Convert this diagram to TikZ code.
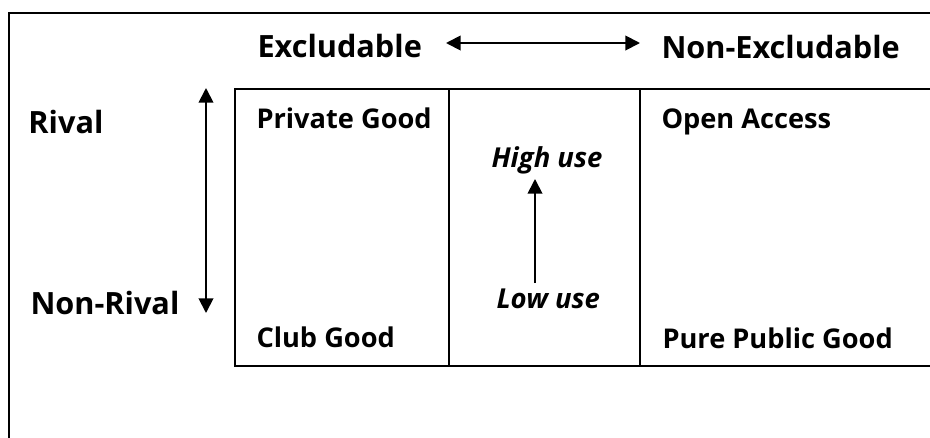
\documentclass[tikz,border=0pt]{standalone}
\usepackage{fontspec}
\setmainfont{Open Sans}
\usetikzlibrary{arrows.meta}

\tikzset{every picture/.style={line width=0.75pt}}
\tikzset{
  headlbl/.style={font=\fontsize{23}{26}\selectfont\bfseries, anchor=base west, inner sep=0pt},
  lbl/.style={font=\fontsize{20.4}{23}\selectfont\bfseries, anchor=base west, inner sep=0pt},
  uselbl/.style={font=\fontsize{20.6}{23}\selectfont\bfseries\itshape, anchor=base west, inner sep=0pt},
  frameline/.style={line width=1.4pt},
  arr/.style={line width=1.4pt, -{Triangle[length=11pt,width=11pt]}},
  dblarr/.style={line width=1.4pt, {Triangle[length=11pt,width=11pt]}-{Triangle[length=11pt,width=11pt]}}
}

\begin{document}
\begin{tikzpicture}[x=0.75pt,y=0.75pt,yscale=-1,xscale=1]
	\useasboundingbox (0,0) rectangle (930,437);
	\clip (0,0) rectangle (930,437);

	%Outer frame
	\draw [frameline] (9,440) -- (9,13) -- (935,13) ;
	%Table
	\draw [frameline] (935,89) -- (235,89) -- (235,366) -- (935,366) ;
	\draw [frameline] (449,89) -- (449,366) ;
	\draw [frameline] (640,89) -- (640,366) ;

	% Text Node
	\node [headlbl] (excl) at (257,57) {Excludable};
	% Text Node
	\node [headlbl] (nonexcl) at (661,58) {Non-Excludable};
	% Text Node
	\node [headlbl] (rival) at (28,133) {Rival};
	% Text Node
	\node [headlbl] (nonrival) at (30,314) {Non-Rival};
	% Text Node
	\node [lbl] (private) at (256,128) {Private Good};
	% Text Node
	\node [lbl] (club) at (256,347) {Club Good};
	% Text Node
	\node [lbl] (open) at (661,128) {Open Access};
	% Text Node
	\node [lbl] (pure) at (662,348) {Pure Public Good};
	% Text Node
	\node [uselbl] (high) at (491,167) {High use};
	% Text Node
	\node [uselbl] (low) at (496,308) {Low use};

	\coordinate (exclend) at (446,43) ;
	\coordinate (nonexclend) at (640,43) ;
	\coordinate (rivalend) at (206,88) ;
	\coordinate (nonrivalend) at (206,313) ;
	\coordinate (lowend) at (535,283) ;
	\coordinate (highend) at (535,179) ;

	%Straight Lines
	\draw [dblarr] (exclend) -- (nonexclend) ;
	%Straight Lines
	\draw [dblarr] (rivalend) -- (nonrivalend) ;
	%Straight Lines
	\draw [arr] (lowend) -- (highend) ;
\end{tikzpicture}
\end{document}
